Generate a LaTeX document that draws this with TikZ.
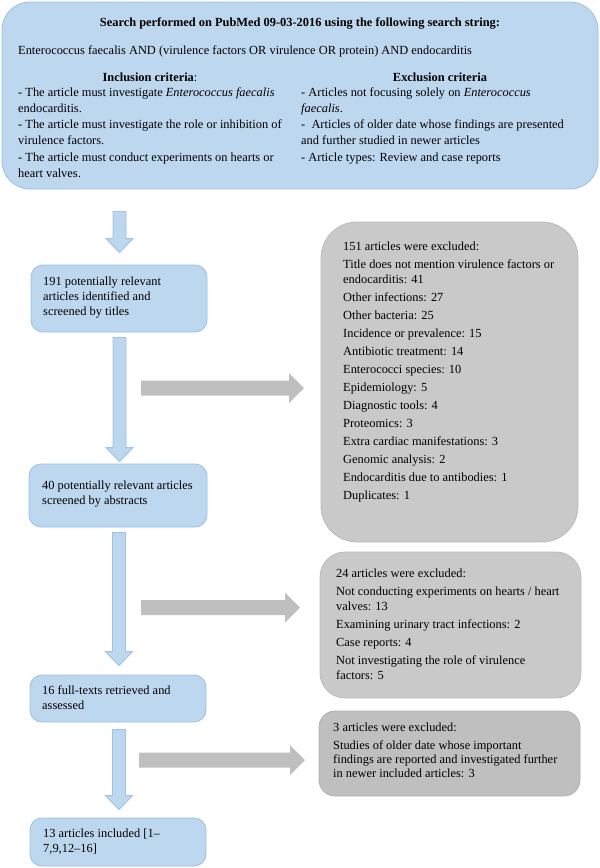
\documentclass[tikz,border=0pt]{standalone}
\usepackage{fontspec}
\setmainfont{Liberation Serif}
\usetikzlibrary{calc}
\definecolor{bfill}{HTML}{BDD7EE}
\definecolor{bline}{HTML}{9DC3E6}
\definecolor{gfill}{HTML}{C9C9C9}
\definecolor{gline}{HTML}{BCBCBC}
\definecolor{gthreefill}{HTML}{BFBFBF}
\definecolor{gthreeline}{HTML}{B2B2B2}
\definecolor{garrow}{HTML}{BFBFBF}
\newcommand{\vblock}[2]{%
  \draw[bluearrow] ($(#1)+(-6.5,0)$) -- ($(#1)+(6.5,0)$) -- ($(#2)+(6.5,-14)$) -- ($(#2)+(13.5,-14)$) -- (#2) -- ($(#2)+(-13.5,-14)$) -- ($(#2)+(-6.5,-14)$) -- cycle;}
\newcommand{\hblock}[2]{%
  \fill[garrow] ($(#1)+(0,-7.5)$) -- ($(#2)+(-15,-7.5)$) -- ($(#2)+(-15,-15)$) -- (#2) -- ($(#2)+(-15,15)$) -- ($(#2)+(-15,7.5)$) -- ($(#1)+(0,7.5)$) -- cycle;}
\begin{document}
\begin{tikzpicture}[x=1pt,y=-1pt,
  bluebox/.style={draw=bline, fill=bfill, line width=0.9pt, rounded corners=#1, inner sep=0},
  bluebox/.default=12,
  greybox/.style={draw=gline, fill=gfill, line width=0.8pt, rounded corners=#1, inner sep=0},
  greybox/.default=25,
  bluearrow/.style={draw=bline, fill=bfill, line width=0.9pt},
  txt/.style={inner sep=0, anchor=north west, align=left, font=\fontsize{12.4}{15}\selectfont},
  txtl/.style={inner sep=0, anchor=base, font=\fontsize{12.4}{15}\selectfont},
]
\useasboundingbox (0,0) rectangle (600,868);

% top box
\node[bluebox=28, minimum width=596, minimum height=187] (top) at (300,95.5) {};
\node[txtl, font=\bfseries\fontsize{12.4}{15}\selectfont] (title) at (300,26) {Search performed on PubMed 09-03-2016 using the following search string:};
\node[txtl, anchor=base west] (search) at (18,54) {Enterococcus faecalis AND (virulence factors OR virulence OR protein) AND endocarditis};
\node[txtl] (inch) at (150,81) {\textbf{Inclusion criteria}:};
\node[txtl] (exch) at (440,81) {\textbf{Exclusion criteria}};
\node[txt, font=\fontsize{12.4}{16.2}\selectfont] (inc) at (18,84.66) {\strut- The article must investigate \textit{Enterococcus faecalis}\\endocarditis.\\- The article must investigate the role or inhibition of\\virulence factors.\\- The article must conduct experiments on hearts or\\heart valves.};
\node[txt, font=\fontsize{12.4}{16.2}\selectfont] (exc) at (301,84.66) {\strut- Articles not focusing solely on \textit{Enterococcus}\\\textit{faecalis}.\\-\ \ Articles of older date whose findings are presented\\and further studied in newer articles\\- Article types: Review and case reports};

% blue flow boxes
\node[bluebox, minimum width=176, minimum height=67] (b191) at (119,298.5) {};
\node[txt] (t191) at (43,274.5) {\strut 191 potentially relevant\\articles identified and\\screened by titles};
\node[bluebox, minimum width=178, minimum height=63] (b40) at (118,495.5) {};
\node[txt] (t40) at (42,478.5) {\strut 40 potentially relevant articles\\screened by abstracts};
\node[bluebox, minimum width=176, minimum height=47] (b16) at (118,698.5) {};
\node[txt] (t16) at (42,683.5) {\strut 16 full-texts retrieved and\\assessed};
\node[bluebox, minimum width=176, minimum height=48] (b13) at (118,842) {};
\node[txt] (t13) at (43,826.5) {\strut 13 articles included [1–\\7,9,12–16]};

% grey exclusion boxes
\node[greybox=36, minimum width=257, minimum height=320] (g151) at (449.5,382) {};
\node[txt] (t151) at (343,239.5) {\strut 151 articles were excluded:\\[3pt]
Title does not mention virulence factors or\\endocarditis: 41\\[3pt]
Other infections: 27\\[3pt]
Other bacteria: 25\\[3pt]
Incidence or prevalence: 15\\[3pt]
Antibiotic treatment: 14\\[3pt]
Enterococci species: 10\\[3pt]
Epidemiology: 5\\[3pt]
Diagnostic tools: 4\\[3pt]
Proteomics: 3\\[3pt]
Extra cardiac manifestations: 3\\[3pt]
Genomic analysis: 2\\[3pt]
Endocarditis due to antibodies: 1\\[3pt]
Duplicates: 1};
\node[greybox=25, minimum width=261, minimum height=146] (g24) at (450.5,625) {};
\node[txt] (t24) at (336,566.5) {\strut 24 articles were excluded:\\[3pt]
Not conducting experiments on hearts / heart\\valves: 13\\[3pt]
Examining urinary tract infections: 2\\[3pt]
Case reports: 4\\[3pt]
Not investigating the role of virulence\\factors: 5};
\node[greybox=16, draw=gthreeline, fill=gthreefill, minimum width=261, minimum height=85] (g3) at (449.5,753.5) {};
\node[txt, font=\fontsize{12.4}{14}\selectfont] (t3) at (333,721.2) {\strut 3 articles were excluded:\\[4pt]
Studies of older date whose important\\findings are reported and investigated further\\in newer included articles: 3};

% blue down arrows
\coordinate (a1s) at ($(top.south -| b191.north)+(0.5,22)$);
\coordinate (a1e) at ($(b191.north)+(0.5,-12)$);
\coordinate (a2s) at ($(b191.south)+(0.5,5)$);
\coordinate (a2e) at ($(b40.north -| b191.south)+(0.5,-2)$);
\coordinate (a3s) at ($(b40.south)+(1,5)$);
\coordinate (a3e) at ($(b16.north)+(1,-9)$);
\coordinate (a4s) at ($(b16.south)+(1,7)$);
\coordinate (a4e) at ($(b13.north)+(1,-8)$);
\vblock{a1s}{a1e}
\vblock{a2s}{a2e}
\vblock{a3s}{a3e}
\vblock{a4s}{a4e}

% grey right arrows
\coordinate (r1s) at (141,388);
\coordinate (r1e) at (304,388);
\coordinate (r2s) at (141,607.5);
\coordinate (r2e) at (300,607.5);
\coordinate (r3s) at (139,760);
\coordinate (r3e) at (305,760);
\hblock{r1s}{r1e}
\hblock{r2s}{r2e}
\hblock{r3s}{r3e}
\end{tikzpicture}
\end{document}
